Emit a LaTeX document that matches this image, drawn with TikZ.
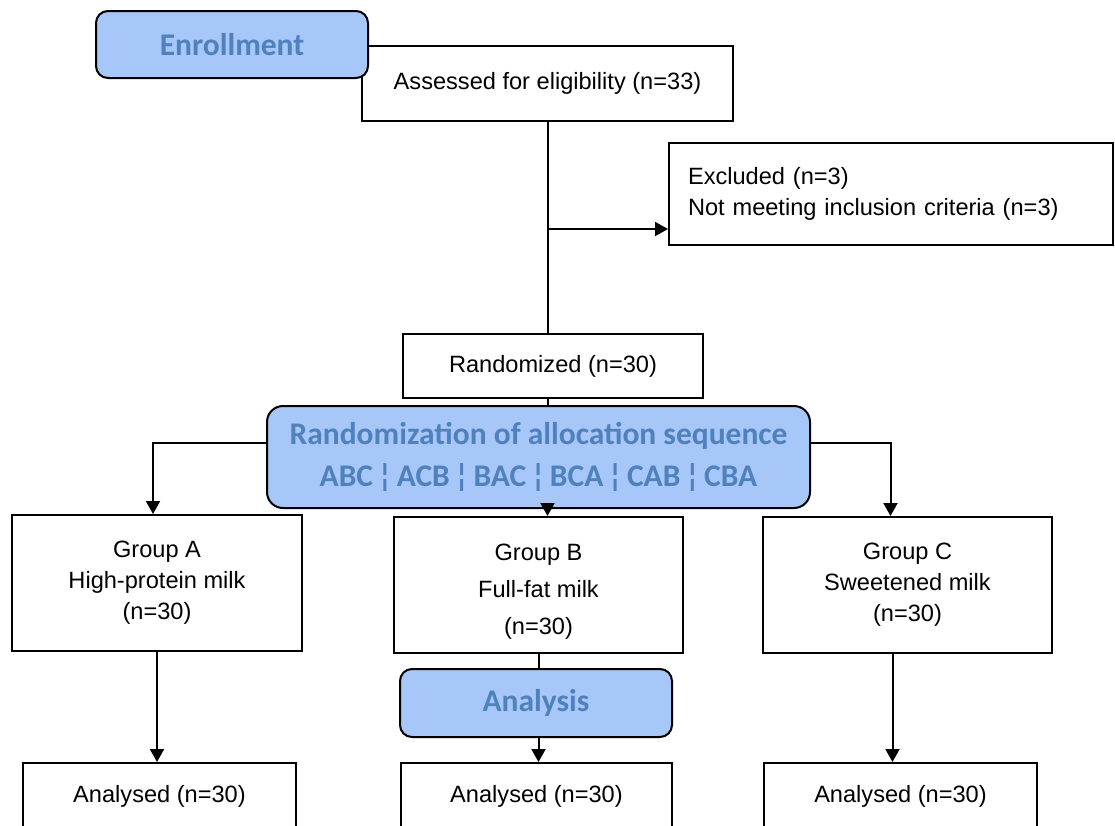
\documentclass[tikz,border=0pt]{standalone}
\usepackage{fontspec}
\setmainfont{Liberation Sans}
\newfontfamily\headfont{Carlito}
\usetikzlibrary{arrows.meta}
\definecolor{headfill}{RGB}{167,199,249}
\definecolor{headtext}{RGB}{79,129,189}
\newcommand{\seqbar}{\hspace{4pt}¦\hspace{4pt}}
\tikzset{
    box/.style={draw, line width=2pt, fill=white, align=center, inner sep=0pt,
        font=\fontsize{23.6}{31}\selectfont},
    head/.style={draw, line width=2pt, rounded corners=12pt, fill=headfill, text=headtext,
        align=center, inner sep=0pt, font=\headfont\bfseries\fontsize{31.5}{42}\selectfont},
    cutbox/.style={box, anchor=north, inner ysep=10pt, text height=29pt, text depth=60pt},
    link/.style={line width=2pt},
    flow/.style={line width=2pt, -{Triangle[length=13pt,width=14pt]}},
}
\begin{document}
\begin{tikzpicture}[x=1pt, y=-1pt]
    \useasboundingbox (0,0) rectangle (1115,825);

        \node[box, minimum width=371pt, minimum height=75pt] (assess) at (547.5,83) {Assessed for eligibility (n=33)};
        \node[head, minimum width=272pt, minimum height=67pt] (enroll) at (232,44.5) {Enrollment};
        \node[box, minimum width=444pt, minimum height=102pt, text width=406pt, align=left] (excl) at (891,194) {Excluded (n=3)\\Not meeting inclusion criteria (n=3)};
        \node[box, minimum width=300pt, minimum height=64pt] (rand) at (553,366) {Randomized (n=30)};
        \node[head, rounded corners=16pt, minimum width=543pt, minimum height=102pt] (alloc) at (538.5,457) {Randomization of allocation sequence\\ABC\seqbar ACB\seqbar BAC\seqbar BCA\seqbar CAB\seqbar CBA};

        \node[box, minimum width=290pt, minimum height=136pt] (grpA) at (157,583) {Group A\\High-protein milk\\(n=30)};
        \node[box, minimum width=289pt, minimum height=136pt, font=\fontsize{23.6}{37}\selectfont] (grpB) at (538.5,585) {\rule{0pt}{29pt}Group B\\Full-fat milk\\(n=30)};
        \node[box, minimum width=289pt, minimum height=136pt] (grpC) at (907.5,585) {Group C\\Sweetened milk\\(n=30)};
        \node[head, minimum width=272pt, minimum height=68pt] (analysis) at (536,703) {Analysis};

        \node[cutbox, minimum width=273pt] (anaA) at (159.5,762) {Analysed (n=30)};
        \node[cutbox, minimum width=271pt] (anaB) at (536.5,762) {Analysed (n=30)};
        \node[cutbox, minimum width=273pt] (anaC) at (900.5,762) {Analysed (n=30)};

        \coordinate (exclin) at ([yshift=-35pt]excl.west);
        \coordinate (allocL) at ([yshift=14pt]alloc.west);
        \coordinate (allocR) at ([yshift=14pt]alloc.east);
        \coordinate (cdown) at ([xshift=-15pt]grpC.south);

        \draw[link] (assess.south) -- (assess.south |- rand.north);
        \draw[flow] (assess.south |- exclin) -- (exclin);
        \draw[link] (assess.south |- rand.south) -- (assess.south |- alloc.north);
        \draw[flow] (assess.south |- alloc.south) -- (assess.south |- grpB.north);
        \draw[flow] (allocL) -| ([xshift=-4pt]grpA.north);
        \draw[flow] (allocR) -| ([xshift=-17pt]grpC.north);
        \draw[flow] (grpA.south) -- (grpA.south |- anaA.north);
        \draw[link] (grpB.south) -- (grpB.south |- analysis.north);
        \draw[flow] (grpB.south |- analysis.south) -- (grpB.south |- anaB.north);
        \draw[flow] (cdown) -- (cdown |- anaC.north);

\end{tikzpicture}
\end{document}
